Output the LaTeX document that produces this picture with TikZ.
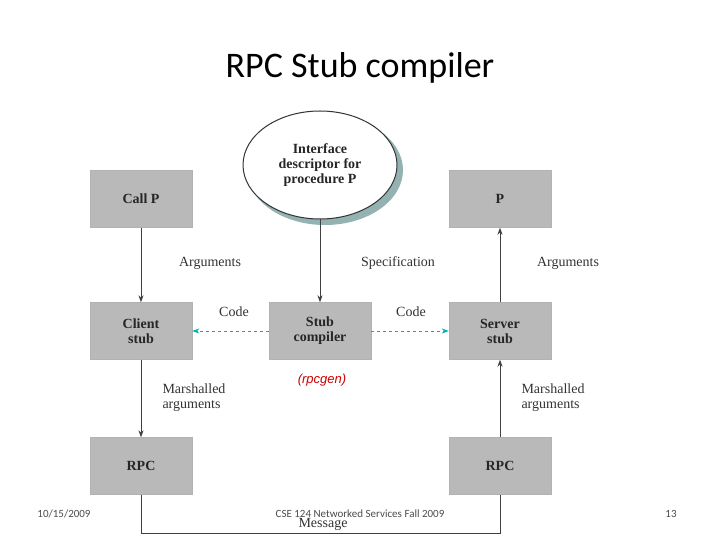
\documentclass[tikz,border=0pt]{standalone}
\usepackage{fontspec}
\setmainfont{Liberation Serif}
\newfontfamily\myCalib{Carlito}
\newfontfamily\myArial{Liberation Sans}
\usetikzlibrary{shapes.geometric,arrows.meta}
\begin{document}
\begin{tikzpicture}[x=1pt,y=-1pt,
  box/.style={draw=gray!60,fill=gray!55,minimum width=102pt,minimum height=57pt,align=center,font=\fontsize{14}{15}\selectfont\bfseries\color{black!85},inner sep=1pt},
  ar/.style={-{Stealth[length=7pt,width=5pt]},black!75,line width=0.8pt},
  dar/.style={-{Stealth[length=7pt,width=5pt]},teal!60!cyan,dashed,line width=0.8pt},
  lab/.style={font=\fontsize{14}{15}\selectfont\color{black!80}}]
\useasboundingbox (0,0) rectangle (720,540);
\fill[white] (0,0) rectangle (720,540);
\node[font=\myCalib\fontsize{36}{40}\selectfont] (title) at (360,68) {RPC Stub compiler};
\node[box] (callp) at (141,199) {Call P};
\node[box] (p) at (500,199) {P};
\node[box] (cs) at (141,331) {Client\\stub};
\node[box] (sc) at (320,331) {Stub\\compiler};
\node[box] (ss) at (500,331) {Server\\stub};
\node[box] (rl) at (141,466) {RPC};
\node[box] (rr) at (500,466) {RPC};
\fill[teal!40!gray!60] (325,170) ellipse (78pt and 55pt);
\node[ellipse,draw=black!80,line width=1pt,fill=white,minimum width=154pt,minimum height=108pt,align=center,inner sep=0pt,font=\fontsize{14}{15}\selectfont\bfseries\color{black!85}] (id) at (320,165) {Interface\\descriptor for\\procedure P};
\draw[ar] (callp) -- (cs);
\draw[ar] (ss) -- (p);
\draw[ar] (id) -- (sc);
\draw[dar] (sc) -- (cs);
\draw[dar] (sc) -- (ss);
\draw[ar] (cs) -- (rl);
\draw[ar] (rr) -- (ss);
\coordinate (m1) at (141,533);
\coordinate (m2) at (500,533);
\draw[black!75,line width=0.8pt] (rl.south) -- (m1) -- (m2) -- (rr.south);
\node[lab] at (210,263) {Arguments};
\node[lab] at (398,263) {Specification};
\node[lab] at (568,263) {Arguments};
\node[lab] at (234,312) {Code};
\node[lab] at (411,312) {Code};
\node[lab,align=left] at (194,398) {Marshalled\\arguments};
\node[lab,align=left] at (553,398) {Marshalled\\arguments};
\node[lab] at (323,524) {Message};
\node[font=\myArial\itshape\fontsize{13}{14}\selectfont,text=red!80!black] at (322,380) {(rpcgen)};
\node[font=\myCalib\fontsize{11}{12}\selectfont,text=black!70] at (64,514) {10/15/2009};
\node[font=\myCalib\fontsize{11}{12}\selectfont,text=black!70] at (360,514) {CSE 124 Networked Services Fall 2009};
\node[font=\myCalib\fontsize{11}{12}\selectfont,text=black!70] at (671,514) {13};
\end{tikzpicture}
\end{document}
